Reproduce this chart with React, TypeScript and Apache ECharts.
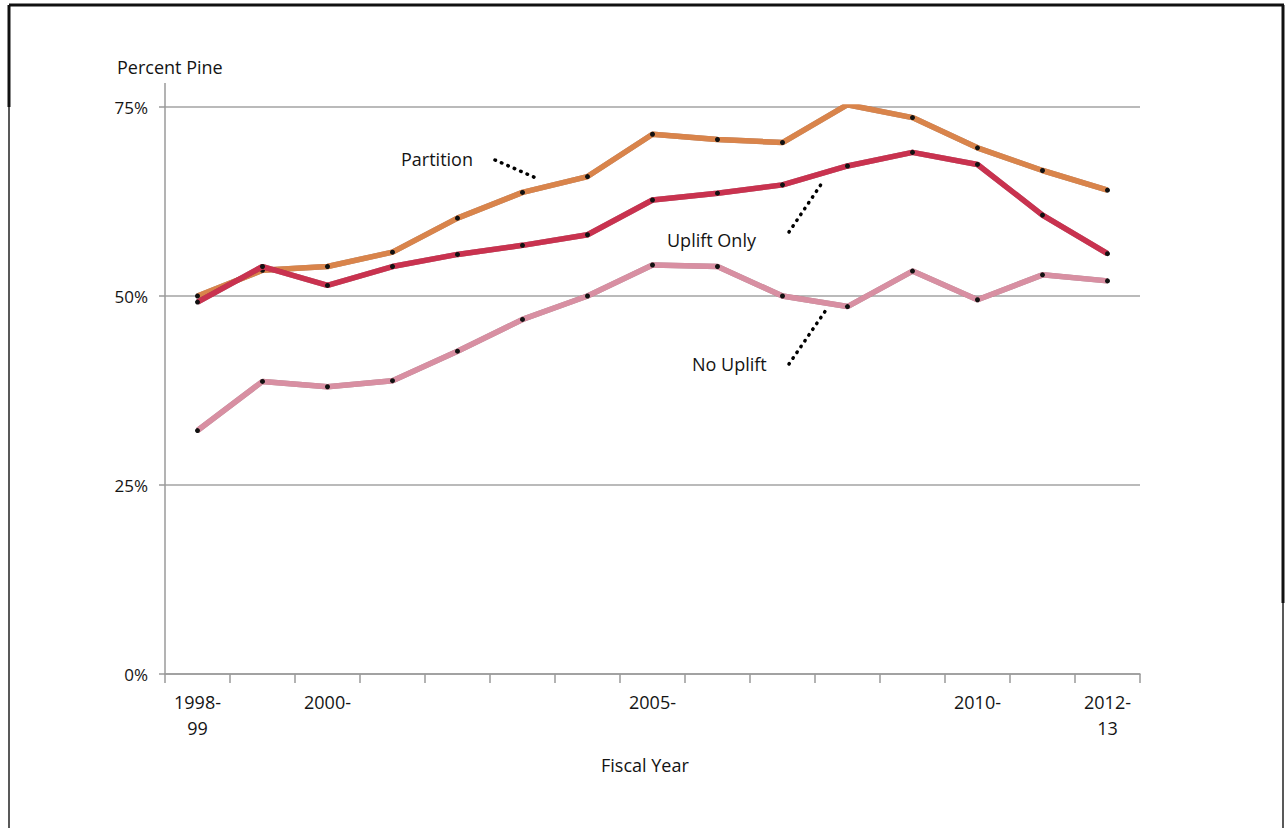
import React, { useEffect, useRef } from "react";
import * as echarts from "echarts";

const categories = [
  "1998-99", "1999-00", "2000-01", "2001-02", "2002-03", "2003-04", "2004-05", "2005-06",
  "2006-07", "2007-08", "2008-09", "2009-10", "2010-11", "2011-12", "2012-13",
];
const tickLabels = [
  "1998-\n99", "", "2000-", "", "", "", "", "2005-", "", "", "", "", "2010-", "", "2012-\n13",
];
const partition = [50.0, 53.4, 53.9, 55.8, 60.3, 63.7, 65.8, 71.4, 70.7, 70.3, 75.3, 73.6, 69.6, 66.6, 64.0];
const upliftOnly = [49.2, 53.9, 51.4, 53.9, 55.5, 56.7, 58.1, 62.7, 63.6, 64.7, 67.2, 69.0, 67.4, 60.7, 55.6];
const noUplift = [32.2, 38.7, 38.0, 38.8, 42.7, 46.9, 50.0, 54.1, 53.9, 50.0, 48.6, 53.3, 49.5, 52.8, 52.0];
const yTicks = [0, 25, 50, 75];

const FONT = "Open Sans";
const TXT = "#141414";

export default function App() {
  const ref = useRef<HTMLDivElement>(null);
  useEffect(() => {
    if (!ref.current) return;
    const chart = echarts.init(ref.current, null, { renderer: "svg" });
    const dots = { stroke: "#000", lineWidth: 3.5, lineDash: [0.5, 6.5], lineCap: "round" as const };
    const mkSeries = (name: string, data: number[], color: string, z: number) => ({
      name,
      type: "line",
      data,
      z,
      symbol: "circle",
      symbolSize: 5,
      itemStyle: { color: "#111", borderWidth: 0 },
      lineStyle: {
        color,
        width: 5.5,
        shadowColor: "rgba(60,20,20,0.6)",
        shadowBlur: 1.5,
      },
      emphasis: { disabled: true },
    });
    chart.setOption({
      animation: false,
      backgroundColor: "#ffffff",
      grid: { left: 165, right: 146, top: 107, bottom: 154, containLabel: false },
      xAxis: {
        type: "category",
        data: categories,
        boundaryGap: true,
        axisLine: { show: true, lineStyle: { color: "#9a9a9a", width: 1.5 } },
        axisTick: { show: true, length: 9, alignWithLabel: false, lineStyle: { color: "#9a9a9a", width: 1.5 } },
        axisLabel: {
          interval: 0,
          margin: 15,
          formatter: (_v: string, i: number) => tickLabels[i],
          color: TXT,
          fontFamily: FONT,
          fontSize: 18,
          lineHeight: 26,
        },
        splitLine: { show: false },
      },
      yAxis: {
        type: "value",
        min: 0,
        max: 75,
        interval: 25,
        axisLine: { show: true, lineStyle: { color: "#9a9a9a", width: 1.5 } },
        axisTick: { show: true, length: 6, lineStyle: { color: "#9a9a9a", width: 1.5 } },
        axisLabel: {
          formatter: (v: number) => (yTicks.includes(v) ? v + "%" : ""),
          color: TXT,
          fontFamily: FONT,
          fontSize: 17,
          margin: 17,
        },
        splitLine: { show: true, lineStyle: { color: "#a3a3a3", width: 1.5 } },
      },
      series: [
        mkSeries("Partition", partition, "#d9844c", 3),
        mkSeries("Uplift Only", upliftOnly, "#c93350", 4),
        mkSeries("No Uplift", noUplift, "#d88fa2", 5),
      ],
      graphic: [
        // frame
        { type: "line", shape: { x1: 9, y1: 5, x2: 1284, y2: 5 }, style: { stroke: "#111", lineWidth: 3 } },
        { type: "line", shape: { x1: 9, y1: 5, x2: 9, y2: 107 }, style: { stroke: "#111", lineWidth: 3 } },
        { type: "line", shape: { x1: 9, y1: 107, x2: 9, y2: 828 }, style: { stroke: "#222", lineWidth: 1.5 } },
        { type: "line", shape: { x1: 1283, y1: 5, x2: 1283, y2: 603 }, style: { stroke: "#111", lineWidth: 3 } },
        { type: "line", shape: { x1: 1283, y1: 603, x2: 1283, y2: 828 }, style: { stroke: "#222", lineWidth: 1.5 } },
        // y axis extension above plot
        { type: "line", shape: { x1: 165, y1: 83, x2: 165, y2: 107 }, style: { stroke: "#9a9a9a", lineWidth: 1.5 } },
        // axis titles
        { type: "text", left: 117, top: 58, style: { text: "Percent Pine", fill: TXT, font: `18px "${FONT}"` } },
        { type: "text", left: 601, top: 756, style: { text: "Fiscal Year", fill: TXT, font: `18px "${FONT}"` } },
        // annotations
        { type: "text", left: 401, top: 150, style: { text: "Partition", fill: TXT, font: `18px "${FONT}"` } },
        { type: "line", shape: { x1: 495, y1: 160, x2: 536, y2: 178 }, style: dots },
        { type: "text", left: 667, top: 231, style: { text: "Uplift Only", fill: TXT, font: `18px "${FONT}"` } },
        { type: "line", shape: { x1: 789, y1: 232, x2: 822, y2: 183 }, style: dots },
        { type: "text", left: 692, top: 355, style: { text: "No Uplift", fill: TXT, font: `18px "${FONT}"` } },
        { type: "line", shape: { x1: 789, y1: 364, x2: 826, y2: 310 }, style: dots },
      ],
    });
    return () => chart.dispose();
  }, []);
  return (
    <div
      ref={ref}
      style={{ position: "absolute", left: 0, top: 0, width: 1286, height: 828, background: "#fff" }}
    />
  );
}
